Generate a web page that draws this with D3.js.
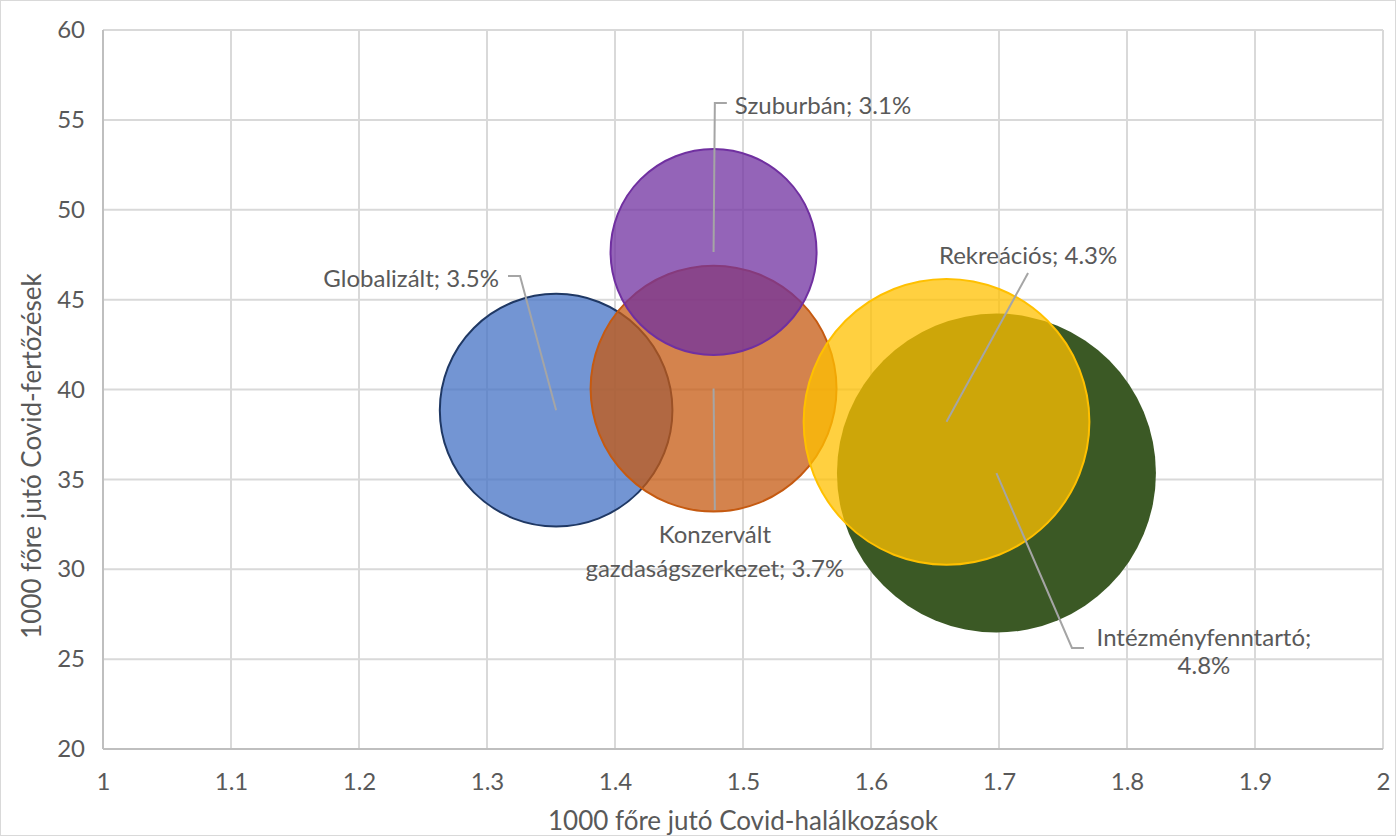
<!DOCTYPE html>
<html><head><meta charset="utf-8">
<script src="https://cdn.jsdelivr.net/npm/d3@7"></script>
<style>body{margin:0;background:#fff;} text{font-family:Lato,"Open Sans",sans-serif;fill:#595959;}</style>
</head><body>
<svg id="c" width="1396" height="836"></svg>
<script>
// Data
const names = ["Globalizált","Konzervált gazdaságszerkezet","Szuburbán","Intézményfenntartó","Rekreációs"];
const deaths = [1.354, 1.477, 1.477, 1.698, 1.659];        // x
const infections = [38.85, 40.05, 47.65, 35.35, 38.2];     // y
const shares = [3.5, 3.7, 3.1, 4.8, 4.3];                   // bubble size (%)
const labelLines = [["Globalizált; 3.5%"],["Konzervált","gazdaságszerkezet; 3.7%"],["Szuburbán; 3.1%"],["Intézményfenntartó;","4.8%"],["Rekreációs; 4.3%"]];
// label anchor points in data units
const labelX = [1.3258, 1.478, 1.478, 1.757, 1.7227];
const labelY = [46.31, 33.30, 55.94, 25.62, 46.48];
const xTicks = [1,1.1,1.2,1.3,1.4,1.5,1.6,1.7,1.8,1.9,2];
const yTicks = [20,25,30,35,40,45,50,55,60];
const xTitle = "1000 főre jutó Covid-halálkozások";
const yTitle = "1000 főre jutó Covid-fertőzések";

const fills = ["#4472C4","#C55A11","#7030A0","#3B5925","#FFC000"];
const strokes = ["#1F3864","#C55A11","#7030A0","none","#FFC000"];
const opac = [0.75,0.75,0.75,1,0.75];

const svg = d3.select("#c");
const L=103,R=1383,T=30,B=749;
const x = d3.scaleLinear().domain([1,2]).range([L,R]);
const y = d3.scaleLinear().domain([20,60]).range([B,T]);
const r = d3.scaleLinear().domain([0,4.8]).range([0,159.5]);
const FS = "24px";

// border
svg.append("rect").attr("x",0.5).attr("y",0.5).attr("width",1395).attr("height",835).attr("fill","none").attr("stroke","#d9d9d9");

// grid
const g = svg.append("g");
g.selectAll(".gx").data(xTicks).join("line").attr("x1",d=>x(d)).attr("x2",d=>x(d)).attr("y1",T).attr("y2",B).attr("stroke","#d9d9d9").attr("stroke-width",2);
g.selectAll(".gy").data(yTicks).join("line").attr("y1",d=>y(d)).attr("y2",d=>y(d)).attr("x1",L).attr("x2",R).attr("stroke","#d9d9d9").attr("stroke-width",2);
// axis lines
svg.append("line").attr("x1",L).attr("x2",R).attr("y1",B).attr("y2",B).attr("stroke","#bfbfbf").attr("stroke-width",2);
svg.append("line").attr("x1",L).attr("x2",L).attr("y1",T).attr("y2",B).attr("stroke","#bfbfbf").attr("stroke-width",2);

// axes labels via d3 axis
const xa = svg.append("g").attr("transform",`translate(0,${B})`).call(d3.axisBottom(x).tickValues(xTicks).tickSize(0).tickPadding(24).tickFormat(d3.format("")));
const ya = svg.append("g").attr("transform",`translate(${L},0)`).call(d3.axisLeft(y).tickValues(yTicks).tickSize(0).tickPadding(18));
[xa,ya].forEach(a=>{a.select(".domain").remove(); a.selectAll("text").style("font-size",FS).style("fill","#595959").style("font-family","Lato,'Open Sans',sans-serif");});

// bubbles
const idx = d3.range(names.length);
svg.append("g").selectAll("circle").data(idx).join("circle")
  .attr("cx",i=>x(deaths[i])).attr("cy",i=>y(infections[i])).attr("r",i=>r(shares[i]))
  .attr("fill",i=>fills[i]).attr("fill-opacity",i=>opac[i])
  .attr("stroke",i=>strokes[i]).attr("stroke-width",2);

// leader lines
const lg = svg.append("g").attr("fill","none").attr("stroke","#a5a5a5").attr("stroke-width",2);
const lines = [
  i=>[[x(deaths[i]),y(infections[i])],[x(labelX[i]),y(labelY[i])],[x(labelX[i])-12,y(labelY[i])]],
  i=>[[x(deaths[i]),y(infections[i])],[x(labelX[i]),y(labelY[i])]],
  i=>[[x(deaths[i]),y(infections[i])],[x(labelX[i]),y(labelY[i])],[x(labelX[i])+12,y(labelY[i])]],
  i=>[[x(deaths[i]),y(infections[i])],[x(labelX[i]),y(labelY[i])],[x(labelX[i])+12,y(labelY[i])]],
  i=>[[x(deaths[i]),y(infections[i])],[x(labelX[i]),y(labelY[i])]]
];
idx.forEach(i=>lg.append("path").attr("d",d3.line()(lines[i](i))));

// label text
const tg = svg.append("g").style("font-size",FS);
function lbl(i,tx,ty,anchor,dy2){
  const t = tg.append("text").attr("x",tx).attr("y",ty).attr("text-anchor",anchor).attr("dominant-baseline","central");
  labelLines[i].forEach((s,k)=>t.append("tspan").attr("x",tx).attr("dy",k?dy2:0).text(s));
}
lbl(0, x(labelX[0])-21, y(labelY[0])+1, "end", 0);
lbl(1, x(labelX[1]), y(labelY[1])+23, "middle", 34);
lbl(2, x(labelX[2])+20, y(labelY[2])+1, "start", 0);
lbl(3, x(labelX[3])+132, y(labelY[3])-12, "middle", 28);
lbl(4, x(labelX[4]), y(labelY[4])-19, "middle", 0);

// axis titles
svg.append("text").attr("x",(L+R)/2).attr("y",820).attr("text-anchor","middle").attr("dominant-baseline","central").style("font-size","26px").text(xTitle);
svg.append("text").attr("transform",`translate(31,456) rotate(-90)`).attr("text-anchor","middle").attr("dominant-baseline","central").style("font-size","26px").text(yTitle);
</script>
</body></html>
